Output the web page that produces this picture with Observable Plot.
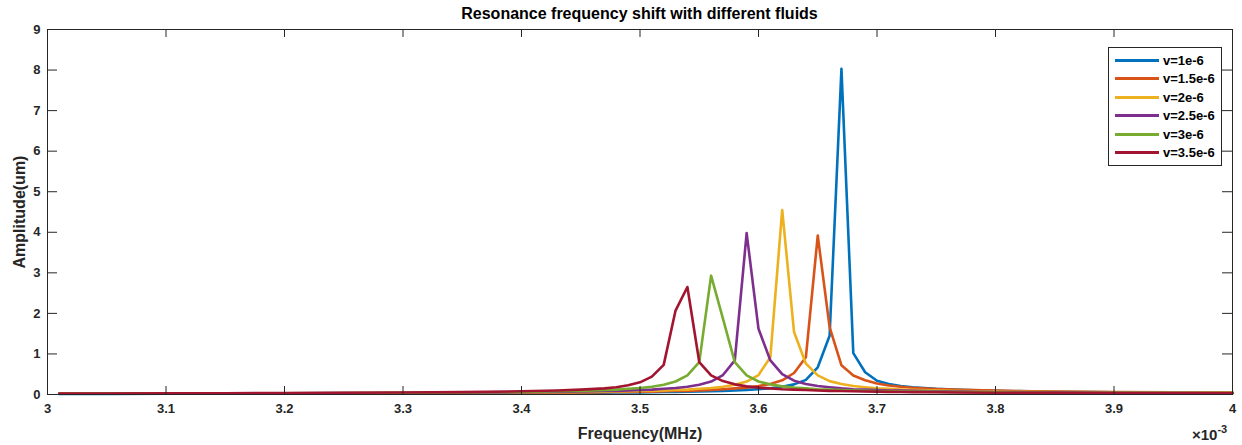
<!DOCTYPE html>
<html><head><meta charset="utf-8">
<script src="https://cdn.jsdelivr.net/npm/d3@7"></script>
<script src="https://cdn.jsdelivr.net/npm/@observablehq/plot@0.6"></script>
<style>
body{margin:0;background:#fff;}
#wrap{position:relative;width:1242px;height:445px;font-family:"Liberation Sans",Arial,sans-serif;color:#000;}
#title{position:absolute;top:5px;left:47px;width:1185px;text-align:center;font-weight:bold;font-size:16px;}
#legend{position:absolute;left:1108px;top:47px;width:114px;border:1px solid #262626;background:#fff;padding:3px 0 3px 0;box-sizing:border-box;}
#legend .row{display:flex;align-items:center;height:18.5px;font-size:13px;font-weight:bold;color:#000;white-space:nowrap;}
#legend .sw{width:44px;height:2.6px;margin:0 4px 0 6px;flex:none;}
#mult{position:absolute;left:1192px;top:424px;font-size:15px;font-weight:bold;color:#262626;}
#mult sup{font-size:11px;position:relative;top:-1px;}
svg g[aria-label="x-axis label"], svg g[aria-label="y-axis label"]{font-size:16px;font-weight:bold;}
svg g[aria-label="x-axis tick label"], svg g[aria-label="y-axis tick label"]{font-size:13px;font-weight:bold;}
</style>
</head><body>
<div id="wrap">
<div id="chart"></div>
<div id="title">Resonance frequency shift with different fluids</div>
<div id="legend"></div>
<div id="mult">×10<sup>-3</sup></div>
</div>
<script>
// frequency samples (×10^-3 MHz)
const freq = [3.01,3.05,3.10,3.15,3.20,3.25,3.30,3.35,3.40,3.43,3.45,3.47,3.48,3.49,
  3.50,3.51,3.52,3.53,3.54,3.55,3.56,3.57,3.58,3.59,3.60,3.61,3.62,3.63,3.64,3.65,3.66,3.67,3.68,3.69,3.70,3.71,3.72,3.73,
  3.75,3.77,3.80,3.85,3.90,3.95,4.00];

const seriesNames = ["v=1e-6","v=1.5e-6","v=2e-6","v=2.5e-6","v=3e-6","v=3.5e-6"];
const seriesColors = ["#0072BD","#D95319","#EDB120","#7E2F8E","#77AC30","#A2142F"];

const amp_v1e6 = [.015,.016,.017,.018,.02,.022,.025,.029,.034,.038,.042,.046,.048,.05,
  .053,.056,.06,.065,.07,.075,.082,.09,.10,.115,.13,.155,.19,.25,.36,.67,1.45,8.03,1.02,.55,.34,.26,.21,.18,
  .14,.115,.09,.068,.055,.047,.041];
const amp_v15e6 = [.017,.018,.02,.022,.024,.027,.03,.035,.041,.047,.052,.057,.06,.064,
  .068,.072,.08,.085,.09,.10,.115,.13,.15,.17,.21,.26,.35,.53,.92,3.92,1.66,.72,.47,.35,.27,.22,.19,.165,
  .135,.115,.095,.075,.062,.054,.048];
const amp_v2e6 = [.019,.02,.022,.024,.027,.03,.034,.04,.048,.056,.062,.07,.075,.08,
  .085,.09,.10,.11,.12,.14,.16,.19,.24,.32,.48,.92,4.55,1.54,.76,.47,.33,.26,.21,.18,.155,.14,.125,.115,
  .10,.088,.075,.06,.052,.046,.041];
const amp_v25e6 = [.02,.022,.024,.026,.029,.033,.038,.045,.055,.065,.075,.085,.09,.10,
  .11,.12,.14,.16,.19,.24,.32,.48,.84,3.98,1.62,.84,.50,.34,.26,.21,.18,.15,.13,.12,.11,.10,.095,.09,
  .08,.072,.062,.052,.045,.04,.036];
const amp_v3e6 = [.022,.024,.026,.029,.032,.036,.042,.05,.065,.08,.09,.11,.12,.14,
  .16,.19,.24,.32,.47,.80,2.93,1.87,.80,.47,.32,.25,.20,.17,.15,.13,.12,.11,.10,.09,.085,.08,.075,.07,
  .064,.058,.052,.045,.04,.036,.033];
const amp_v35e6 = [.023,.025,.028,.031,.036,.042,.05,.058,.08,.10,.12,.15,.18,.23,
  .30,.44,.73,2.07,2.65,.80,.47,.33,.25,.20,.17,.15,.13,.12,.11,.10,.09,.085,.08,.075,.07,.065,.06,.058,
  .054,.05,.045,.04,.035,.032,.03];

const xTicks = [3,3.1,3.2,3.3,3.4,3.5,3.6,3.7,3.8,3.9,4];
const xTickLabels = ["3","3.1","3.2","3.3","3.4","3.5","3.6","3.7","3.8","3.9","4"];
const yTicks = [0,1,2,3,4,5,6,7,8,9];
const yTickLabels = ["0","1","2","3","4","5","6","7","8","9"];

const allSeries = [amp_v1e6, amp_v15e6, amp_v2e6, amp_v25e6, amp_v3e6, amp_v35e6];
const rows = [];
allSeries.forEach((arr, s) => arr.forEach((a, i) => rows.push({f: freq[i], a, v: seriesNames[s]})));

const W = 1242, H = 445, mL = 47, mR = 10, mT = 29, mB = 51;
const fw = W - mL - mR, fh = H - mT - mB;
const axisColor = "#262626";

const chart = Plot.plot({
  width: W, height: H,
  marginLeft: mL, marginRight: mR, marginTop: mT, marginBottom: mB,
  style: {fontFamily: '"Liberation Sans", Arial, sans-serif', background: "#fff", color: axisColor},
  x: {domain: [3, 4]},
  y: {domain: [0, 9]},
  color: {domain: seriesNames, range: seriesColors},
  marks: [
    Plot.line(rows, {x: "f", y: "a", z: "v", stroke: "v", strokeWidth: 2.6}),
    Plot.frame({stroke: axisColor, strokeWidth: 1}),
    Plot.tickX(xTicks, {x: d => d, insetTop: fh - 8, stroke: axisColor}),
    Plot.tickX(xTicks, {x: d => d, insetBottom: fh - 8, stroke: axisColor}),
    Plot.tickY(yTicks, {y: d => d, insetRight: fw - 10, stroke: axisColor}),
    Plot.tickY(yTicks, {y: d => d, insetLeft: fw - 10, stroke: axisColor}),
    Plot.axisX({ticks: xTicks, tickSize: 0, tickPadding: 9, tickFormat: d => xTickLabels[xTicks.indexOf(d)],
      label: "Frequency(MHz)", labelAnchor: "center", labelOffset: 44, labelArrow: "none", fill: axisColor}),
    Plot.axisY({ticks: yTicks, tickSize: 0, tickPadding: 7, tickFormat: d => yTickLabels[yTicks.indexOf(d)],
      label: "Amplitude(um)", labelAnchor: "center", labelOffset: 34, labelArrow: "none", fill: axisColor})
  ]
});
document.getElementById("chart").appendChild(chart);

const legend = document.getElementById("legend");
seriesNames.forEach((n, i) => {
  const r = document.createElement("div");
  r.className = "row";
  r.innerHTML = `<span class="sw" style="background:${seriesColors[i]}"></span><span>${n}</span>`;
  legend.appendChild(r);
});
</script>
</body></html>
